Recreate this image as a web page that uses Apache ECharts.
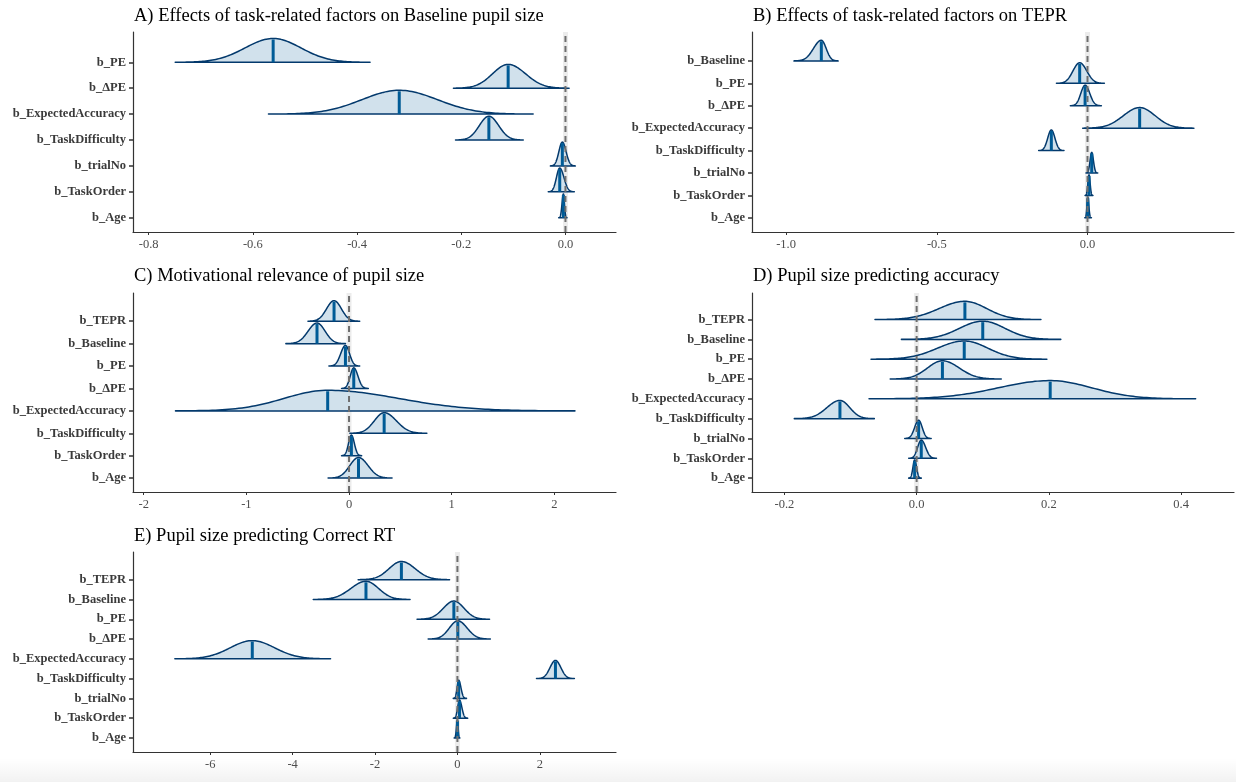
<!DOCTYPE html>
<html>
<head>
<meta charset="utf-8">
<script src="https://cdn.jsdelivr.net/npm/echarts@6.0.0/dist/echarts.min.js"></script>
<style>
  html, body { margin: 0; padding: 0; background: #fff; }
  #main { width: 1236px; height: 782px; }
</style>
</head>
<body>
<div id="main"></div>
<script>
// A) baseline pupil size
const namesA = ['b_PE', 'b_ΔPE', 'b_ExpectedAccuracy', 'b_TaskDifficulty', 'b_trialNo', 'b_TaskOrder', 'b_Age'];
const lowA = [-0.749, -0.215, -0.570, -0.211, -0.029, -0.033, -0.013];
const medA = [-0.561, -0.110, -0.319, -0.147, -0.006, -0.011, -0.004];
const highA = [-0.375, 0.007, -0.062, -0.081, 0.019, 0.017, 0.003];
const ticksA = [-0.8, -0.6, -0.4, -0.2, 0];

// B) TEPR
const namesB = ['b_Baseline', 'b_PE', 'b_ΔPE', 'b_ExpectedAccuracy', 'b_TaskDifficulty', 'b_trialNo', 'b_TaskOrder', 'b_Age'];
const lowB = [-0.974, -0.103, -0.057, -0.016, -0.162, -0.005, -0.008, -0.009];
const medB = [-0.883, -0.026, -0.008, 0.173, -0.120, 0.014, 0.005, 0.001];
const highB = [-0.827, 0.056, 0.046, 0.353, -0.078, 0.034, 0.018, 0.013];
const ticksB = [-1, -0.5, 0];

// C) motivational relevance
const namesC = ['b_TEPR', 'b_Baseline', 'b_PE', 'b_ΔPE', 'b_ExpectedAccuracy', 'b_TaskDifficulty', 'b_TaskOrder', 'b_Age'];
const lowC = [-0.40, -0.615, -0.196, -0.073, -1.69, 0.008, -0.073, -0.204];
const medC = [-0.146, -0.312, -0.035, 0.046, -0.208, 0.342, 0.023, 0.092];
const highC = [0.104, -0.035, 0.104, 0.188, 2.2, 0.758, 0.123, 0.419];
const ticksC = [-2, -1, 0, 1, 2];

// D) accuracy
const namesD = ['b_TEPR', 'b_Baseline', 'b_PE', 'b_ΔPE', 'b_ExpectedAccuracy', 'b_TaskDifficulty', 'b_trialNo', 'b_TaskOrder', 'b_Age'];
const lowD = [-0.063, -0.023, -0.069, -0.040, -0.072, -0.185, -0.018, -0.012, -0.012];
const medD = [0.073, 0.100, 0.072, 0.039, 0.202, -0.116, 0.003, 0.007, -0.003];
const highD = [0.188, 0.218, 0.197, 0.128, 0.422, -0.064, 0.022, 0.030, 0.007];
const ticksD = [-0.2, 0, 0.2, 0.4];

// E) correct RT
const namesE = ['b_TEPR', 'b_Baseline', 'b_PE', 'b_ΔPE', 'b_ExpectedAccuracy', 'b_TaskDifficulty', 'b_trialNo', 'b_TaskOrder', 'b_Age'];
const lowE = [-2.41, -3.50, -0.98, -0.71, -6.86, 1.92, -0.10, -0.10, -0.08];
const medE = [-1.36, -2.22, -0.086, 0.01, -4.98, 2.38, 0.03, 0.05, 0.0];
const highE = [-0.19, -1.15, 0.78, 0.80, -3.08, 2.84, 0.22, 0.25, 0.06];
const ticksE = [-6, -4, -2, 0, 2];

const FILL = '#d1e1ec';
const OUTLINE = '#03396c';
const MEDIAN = '#005b96';
const HEIGHT = 0.92;   // ridge height in rows
const TAIL = 3.5;      // range edge in spreads
const STEPS = 120;
const SERIF = 'Liberation Serif';

const panels = [
  { title: 'A) Effects of task-related factors on Baseline pupil size', names: namesA, low: lowA, med: medA, high: highA, ticks: ticksA, dec: 1,
    grid: { left: 133, top: 32, width: 483, height: 200 }, x: [-0.830, 0.097], y: [-0.55, 7.17], titleTop: 7 },
  { title: 'B) Effects of task-related factors on TEPR', names: namesB, low: lowB, med: medB, high: highB, ticks: ticksB, dec: 1,
    grid: { left: 752, top: 32, width: 482, height: 200 }, x: [-1.113, 0.486], y: [-0.63, 8.29], titleTop: 7 },
  { title: 'C) Motivational relevance of pupil size', names: namesC, low: lowC, med: medC, high: highC, ticks: ticksC, dec: 0,
    grid: { left: 133, top: 293, width: 483, height: 199 }, x: [-2.104, 2.60], y: [-0.62, 8.26], titleTop: 267 },
  { title: 'D) Pupil size predicting accuracy', names: namesD, low: lowD, med: medD, high: highD, ticks: ticksD, dec: 1,
    grid: { left: 752, top: 293, width: 482, height: 199 }, x: [-0.249, 0.480], y: [-0.70, 9.34], titleTop: 267 },
  { title: 'E) Pupil size predicting Correct RT', names: namesE, low: lowE, med: medE, high: highE, ticks: ticksE, dec: 0,
    grid: { left: 133, top: 552, width: 483, height: 200 }, x: [-7.876, 3.85], y: [-0.71, 9.40], titleTop: 527 }
];

function ridgeItem(params, api) {
  const row = api.value(0), lo = api.value(1), md = api.value(2), hi = api.value(3);
  const sl = (md - lo) / TAIL, sr = (hi - md) / TAIL;
  const pts = [api.coord([lo, row])];
  for (let k = 0; k <= STEPS; k++) {
    const x = lo + (hi - lo) * k / STEPS;
    const s = x < md ? sl : sr;
    const d = s > 0 ? Math.exp(-0.5 * Math.pow((x - md) / s, 2)) : 1;
    pts.push(api.coord([x, row + HEIGHT * d]));
  }
  pts.push(api.coord([hi, row]));
  const b = api.coord([md, row]), t = api.coord([md, row + HEIGHT]);
  return {
    type: 'group',
    children: [
      { type: 'polygon', shape: { points: pts }, style: { fill: FILL, stroke: OUTLINE, lineWidth: 1.5, lineJoin: 'round' } },
      { type: 'line', shape: { x1: b[0], y1: b[1], x2: t[0], y2: t[1] + 1 }, style: { stroke: MEDIAN, lineWidth: 3 } }
    ]
  };
}

function zeroLine(yr, halo) {
  return function (params, api) {
    const a = api.coord([0, yr[0]]), b = api.coord([0, yr[1]]);
    return {
      type: 'line',
      shape: { x1: a[0], y1: a[1], x2: b[0], y2: b[1] },
      style: halo ? { stroke: '#ececec', lineWidth: 5 }
                  : { stroke: '#6e6e6e', lineWidth: 2, lineDash: [6, 4] }
    };
  };
}

const option = {
  backgroundColor: '#fff',
  animation: false,
  title: [], grid: [], xAxis: [], yAxis: [], series: [],
  graphic: [{
    type: 'rect', left: 0, top: 758, shape: { width: 1236, height: 24 }, silent: true,
    style: { fill: { type: 'linear', x: 0, y: 0, x2: 0, y2: 1,
      colorStops: [{ offset: 0, color: 'rgba(0,0,0,0)' }, { offset: 1, color: 'rgba(0,0,0,0.05)' }] } }
  }]
};

panels.forEach((p, i) => {
  const n = p.names.length;
  option.title.push({
    text: p.title, left: p.grid.left + 1, top: p.titleTop, padding: 0,
    textStyle: { fontFamily: SERIF, fontSize: 18.5, fontWeight: 'normal', color: '#000' }
  });
  option.grid.push(Object.assign({ containLabel: false }, p.grid));
  option.xAxis.push({
    type: 'value', gridIndex: i, min: p.x[0], max: p.x[1],
    splitLine: { show: false },
    axisLine: { show: true, onZero: false, lineStyle: { color: '#333', width: 1.2 } },
    axisTick: { show: true, length: 3, customValues: p.ticks, lineStyle: { color: '#333' } },
    axisLabel: { customValues: p.ticks, margin: 6, fontFamily: SERIF, fontSize: 12.5, color: '#4d4d4d',
      formatter: v => v.toFixed(p.dec) }
  });
  const rows = p.names.map((_, k) => k);
  option.yAxis.push({
    type: 'value', gridIndex: i, min: p.y[0], max: p.y[1],
    splitLine: { show: false },
    axisLine: { show: true, onZero: false, lineStyle: { color: '#333', width: 1.2 } },
    axisTick: { show: true, length: 4, customValues: rows, lineStyle: { color: '#333', width: 1.5 } },
    axisLabel: { customValues: rows, margin: 7, fontFamily: SERIF, fontSize: 12.5, fontWeight: 'bold', color: '#3a3a3a',
      formatter: v => p.names[n - 1 - Math.round(v)] }
  });
  const data = p.names.map((_, k) => [n - 1 - k, p.low[k], p.med[k], p.high[k]]);
  option.series.push({
    type: 'custom', xAxisIndex: i, yAxisIndex: i, z: 1, silent: true,
    renderItem: zeroLine(p.y, true), data: [[0]]
  });
  option.series.push({
    type: 'custom', xAxisIndex: i, yAxisIndex: i, z: 2, silent: true,
    renderItem: ridgeItem, data: data, encode: { x: [1, 2, 3], y: 0 }
  });
  option.series.push({
    type: 'custom', xAxisIndex: i, yAxisIndex: i, z: 3, silent: true,
    renderItem: zeroLine(p.y, false), data: [[0]]
  });
});

const chart = echarts.init(document.getElementById('main'));
chart.setOption(option);
</script>
</body>
</html>
